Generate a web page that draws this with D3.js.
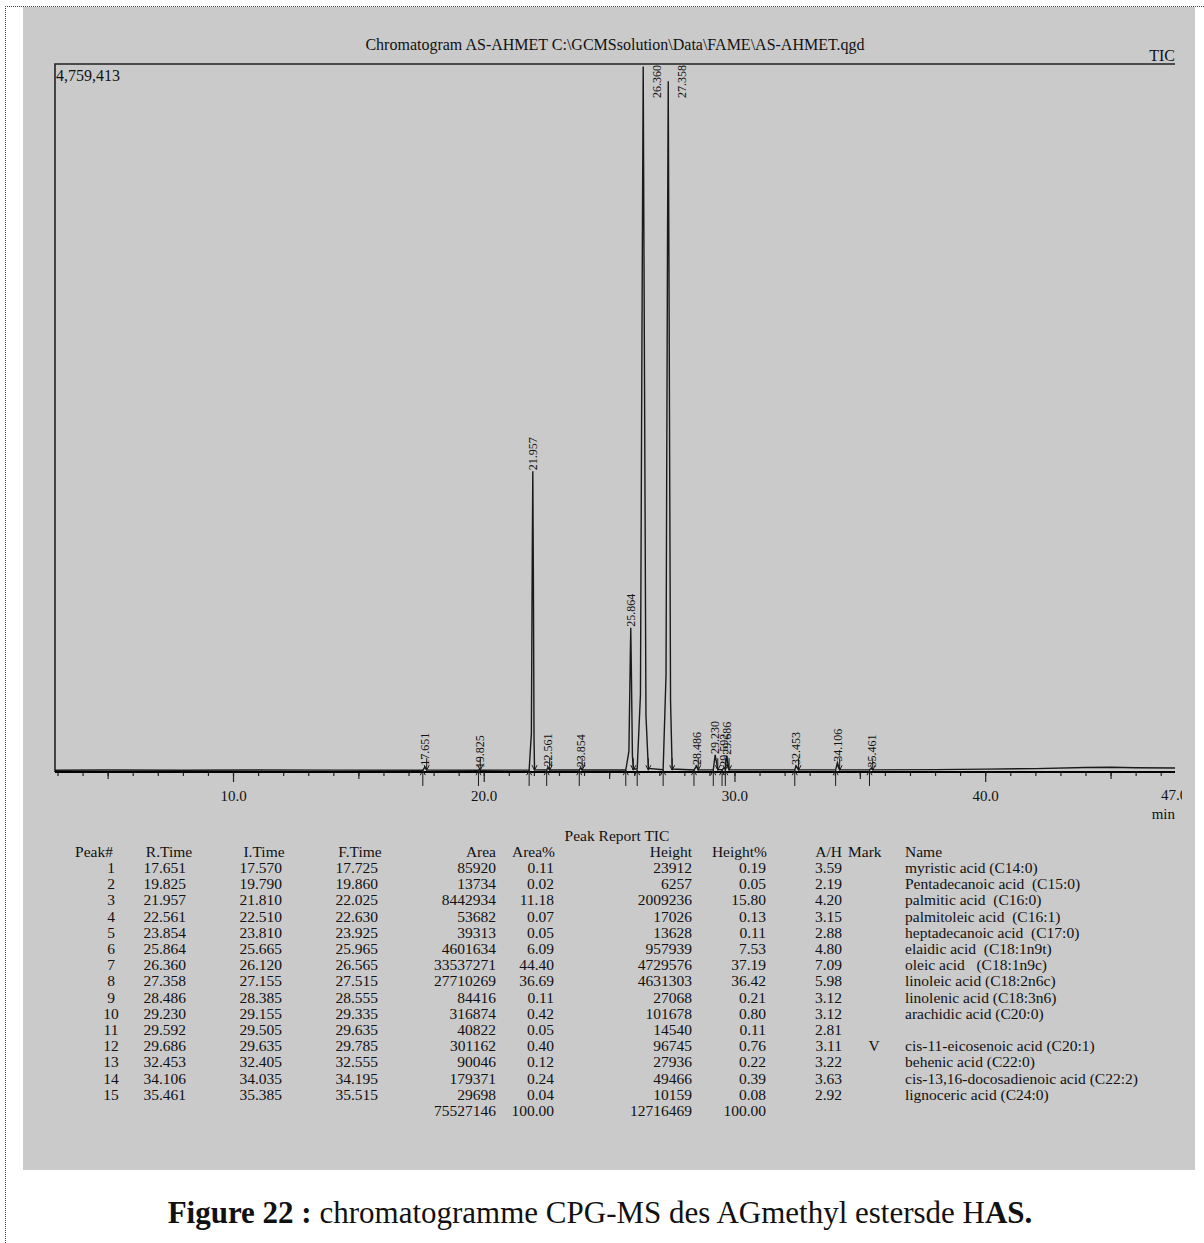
<!DOCTYPE html>
<html>
<head>
<meta charset="utf-8">
<script src="https://cdn.jsdelivr.net/npm/d3@7"></script>
<style>
  body { margin: 0; background: #fff; }
  svg { display: block; font-family: "Liberation Serif", "Times New Roman", serif; }
  text { white-space: pre; fill: #111; }
</style>
</head>
<body>
<div id="chart"></div>
<script>
// ---- peak report ----
const peakNo    = [1, 2, 3, 4, 5, 6, 7, 8, 9, 10, 11, 12, 13, 14, 15];
const rTime     = [17.651, 19.825, 21.957, 22.561, 23.854, 25.864, 26.360, 27.358, 28.486, 29.230, 29.592, 29.686, 32.453, 34.106, 35.461];
const iTime     = [17.570, 19.790, 21.810, 22.510, 23.810, 25.665, 26.120, 27.155, 28.385, 29.155, 29.505, 29.635, 32.405, 34.035, 35.385];
const fTime     = [17.725, 19.860, 22.025, 22.630, 23.925, 25.965, 26.565, 27.515, 28.555, 29.335, 29.635, 29.785, 32.555, 34.195, 35.515];
const area      = [85920, 13734, 8442934, 53682, 39313, 4601634, 33537271, 27710269, 84416, 316874, 40822, 301162, 90046, 179371, 29698];
const areaPct   = [0.11, 0.02, 11.18, 0.07, 0.05, 6.09, 44.40, 36.69, 0.11, 0.42, 0.05, 0.40, 0.12, 0.24, 0.04];
const height    = [23912, 6257, 2009236, 17026, 13628, 957939, 4729576, 4631303, 27068, 101678, 14540, 96745, 27936, 49466, 10159];
const heightPct = [0.19, 0.05, 15.80, 0.13, 0.11, 7.53, 37.19, 36.42, 0.21, 0.80, 0.11, 0.76, 0.22, 0.39, 0.08];
const aOverH    = [3.59, 2.19, 4.20, 3.15, 2.88, 4.80, 7.09, 5.98, 3.12, 3.12, 2.81, 3.11, 3.22, 3.63, 2.92];
const mark      = ["", "", "", "", "", "", "", "", "", "", "", "V", "", "", ""];
const names     = [
  "myristic acid (C14:0)",
  "Pentadecanoic acid  (C15:0)",
  "palmitic acid  (C16:0)",
  "palmitoleic acid  (C16:1)",
  "heptadecanoic acid  (C17:0)",
  "elaidic acid  (C18:1n9t)",
  "oleic acid   (C18:1n9c)",
  "linoleic acid (C18:2n6c)",
  "linolenic acid (C18:3n6)",
  "arachidic acid (C20:0)",
  "",
  "cis-11-eicosenoic acid (C20:1)",
  "behenic acid (C22:0)",
  "cis-13,16-docosadienoic acid (C22:2)",
  "lignoceric acid (C24:0)"
];
const totalArea = 75527146, totalAreaPct = 100, totalHeight = 12716469, totalHeightPct = 100;

// ---- TIC trace, [min, counts] ----
const trace = [
  [2.9, 12000], [5.0, 13000], [8.0, 12000], [11.0, 13000], [14.0, 12500], [17.57, 12000],
  [17.62, 24000], [17.651, 36000], [17.69, 22000], [17.725, 12500],
  [19.79, 12000], [19.825, 18000], [19.86, 12000],
  [21.81, 12500], [21.90, 260000], [21.935, 1450000], [21.957, 2021000], [21.98, 1300000], [22.005, 220000], [22.025, 15000],
  [22.51, 13000], [22.561, 30000], [22.63, 13000],
  [23.81, 13000], [23.854, 26000], [23.925, 13000],
  [25.665, 13000], [25.79, 140000], [25.845, 780000], [25.864, 970000], [25.885, 720000], [25.93, 110000], [25.965, 20000],
  [26.12, 20000], [26.25, 520000], [26.325, 3500000], [26.36, 4742000], [26.395, 3300000], [26.47, 380000], [26.565, 24000],
  [27.155, 16000], [27.27, 650000], [27.33, 3600000], [27.358, 4644000], [27.39, 3250000], [27.45, 480000], [27.515, 20000],
  [28.385, 14000], [28.486, 40000], [28.555, 14000],
  [29.155, 14000], [29.23, 115000], [29.335, 16000], [29.505, 15000], [29.592, 28000], [29.635, 22000], [29.686, 110000], [29.785, 15000],
  [32.405, 14000], [32.453, 41000], [32.555, 14000],
  [34.035, 14000], [34.106, 63000], [34.195, 14000],
  [35.385, 14000], [35.461, 24000], [35.515, 14000],
  [38.0, 16000], [40.0, 19000], [42.0, 23000], [44.0, 30000], [45.0, 32000], [46.0, 29000], [47.57, 27000]
];

const majorTicks = [10, 20, 30, 40];
const mediumTicks = [5, 15, 25, 35, 45];
const minorTicks = d3.range(3, 48);
const yMaxLabel = 4759413;

const CFG = {
  width: 1204,
  height: 1243,
  panel: { x: 23, y: 7, w: 1172, h: 1163, fill: "#cacaca" },
  frame: { left: 55, right: 1175, top: 64, bottom: 772 },
  xDomain: [2.9, 47.57],
  tableFont: 15.5,
  rowTop: 868,
  rowStep: 16.2
};

const svg = d3.select("#chart").append("svg")
  .attr("width", CFG.width)
  .attr("height", CFG.height);

// dotted page border
svg.append("line").attr("x1", 5).attr("x2", CFG.width).attr("y1", 6.5).attr("y2", 6.5)
  .attr("stroke", "#444").attr("stroke-dasharray", "1,1");
svg.append("line").attr("x1", 5.5).attr("x2", 5.5).attr("y1", 6).attr("y2", CFG.height)
  .attr("stroke", "#444").attr("stroke-dasharray", "1,1");

svg.append("rect")
  .attr("x", CFG.panel.x).attr("y", CFG.panel.y)
  .attr("width", CFG.panel.w).attr("height", CFG.panel.h)
  .attr("fill", CFG.panel.fill);

const F = CFG.frame;
const x = d3.scaleLinear().domain(CFG.xDomain).range([F.left, F.right]);
const y = d3.scaleLinear().domain([0, yMaxLabel]).range([F.bottom, F.top]);

// title
svg.append("text")
  .attr("x", 615).attr("y", 50)
  .attr("text-anchor", "middle")
  .attr("font-size", 16)
  .text("Chromatogram AS-AHMET C:\\GCMSsolution\\Data\\FAME\\AS-AHMET.qgd");
svg.append("text")
  .attr("x", F.right).attr("y", 61)
  .attr("text-anchor", "end")
  .attr("font-size", 16)
  .text("TIC");
svg.append("text")
  .attr("x", F.left + 1).attr("y", 81)
  .attr("font-size", 16)
  .text(d3.format(",")(yMaxLabel));

// frame
svg.append("path")
  .attr("d", `M${F.left},${F.bottom}V${F.top}H${F.right}`)
  .attr("fill", "none").attr("stroke", "#222").attr("stroke-width", 1.6);

// axes
const gx = svg.append("g").attr("transform", `translate(0,${F.bottom})`);
const minorAxis = gx.append("g")
  .call(d3.axisBottom(x).tickValues(minorTicks).tickSize(4).tickFormat(""));
const medAxis = gx.append("g")
  .call(d3.axisBottom(x).tickValues(mediumTicks).tickSize(7).tickFormat(""));
const majAxis = gx.append("g")
  .call(d3.axisBottom(x).tickValues(majorTicks).tickSize(10).tickPadding(8).tickFormat(d3.format(".1f")));
[minorAxis, medAxis].forEach(a => a.select(".domain").remove());
majAxis.select(".domain").attr("d", `M${F.left},0H${F.right}`).attr("stroke-width", 2);
gx.selectAll(".tick line").attr("stroke", "#222").attr("stroke-width", 1.2);
gx.selectAll("text")
  .attr("font-family", "Liberation Serif, serif")
  .attr("font-size", 15)
  .attr("fill", "#111");

// end label of the time range, clipped at the panel edge
svg.append("clipPath").attr("id", "endclip")
  .append("rect").attr("x", F.right - 40).attr("y", F.bottom).attr("width", 47).attr("height", 40);
svg.append("text")
  .attr("clip-path", "url(#endclip)")
  .attr("x", F.right - 1).attr("y", F.bottom + 28)
  .attr("text-anchor", "middle")
  .attr("font-size", 15)
  .text("47.0");
svg.append("text")
  .attr("x", F.right).attr("y", F.bottom + 47)
  .attr("text-anchor", "end")
  .attr("font-size", 15)
  .text("min");

// trace
svg.append("clipPath").attr("id", "plotclip")
  .append("rect").attr("x", F.left).attr("y", F.top).attr("width", F.right - F.left).attr("height", F.bottom - F.top);
svg.append("path")
  .datum(trace)
  .attr("clip-path", "url(#plotclip)")
  .attr("fill", "none")
  .attr("stroke", "#1a1a1a")
  .attr("stroke-width", 1.4)
  .attr("d", d3.line().x(d => x(d[0])).y(d => y(d[1])));

// integration marks: up arrow at start, down arrow at end
const baseY = y(12000);
const marks = svg.append("g").attr("stroke", "#1a1a1a").attr("stroke-width", 1).attr("fill", "none");
iTime.forEach(t => {
  const px = x(t);
  marks.append("path")
    .attr("d", `M${px},${F.bottom + 14}V${baseY}M${px - 2.5},${baseY + 5}L${px},${baseY}L${px + 2.5},${baseY + 5}`);
});
fTime.forEach(t => {
  const px = x(t);
  marks.append("path")
    .attr("d", `M${px},${baseY - 12}V${baseY}M${px - 2.5},${baseY - 5}L${px},${baseY}L${px + 2.5},${baseY - 5}`);
});

// peak labels (rotated, reading upwards from the apex)
const labelFont = 12;
const labelLen = 35;
rTime.forEach((t, i) => {
  const apex = d3.max(trace.filter(d => d[0] >= iTime[i] && d[0] <= fTime[i]), d => d[1]);
  let px = x(t);
  let py = y(apex) - 1;
  let anchor = "start";
  if (py - labelLen < F.top + 1) {
    px += 14;
    py = F.top + 1;
    anchor = "end";
  }
  svg.append("text")
    .attr("transform", `translate(${px},${py}) rotate(-90)`)
    .attr("dy", "0.35em")
    .attr("text-anchor", anchor)
    .attr("font-size", labelFont)
    .text(d3.format(".3f")(t));
});

// peak report table
const fmt3 = d3.format(".3f"), fmt2 = d3.format(".2f"), fmtI = d3.format("d");
const columns = [
  { head: "Peak#",   hx: 113, x: 111, anchor: "middle", get: i => peakNo[i] },
  { head: "R.Time",  hx: 169, hAnchor: "middle", x: 186, anchor: "end", get: i => fmt3(rTime[i]) },
  { head: "I.Time",  hx: 264, hAnchor: "middle", x: 282, anchor: "end", get: i => fmt3(iTime[i]) },
  { head: "F.Time",  hx: 360, hAnchor: "middle", x: 378, anchor: "end", get: i => fmt3(fTime[i]) },
  { head: "Area",    hx: 496, x: 496, anchor: "end", get: i => fmtI(area[i]) },
  { head: "Area%",   hx: 555, x: 554, anchor: "end", get: i => fmt2(areaPct[i]) },
  { head: "Height",  hx: 692, x: 692, anchor: "end", get: i => fmtI(height[i]) },
  { head: "Height%", hx: 767, x: 766, anchor: "end", get: i => fmt2(heightPct[i]) },
  { head: "A/H",     hx: 842, x: 842, anchor: "end", get: i => fmt2(aOverH[i]) },
  { head: "Mark",    hx: 848, hAnchorStart: true, x: 874, anchor: "middle", get: i => mark[i] },
  { head: "Name",    hx: 905, hAnchorStart: true, x: 905, anchor: "start", get: i => names[i] }
];

const table = svg.append("g").attr("font-size", CFG.tableFont);
table.append("text")
  .attr("x", 617).attr("y", CFG.rowTop - 2 * CFG.rowStep + 5)
  .attr("text-anchor", "middle")
  .text("Peak Report TIC");
const headY = CFG.rowTop - CFG.rowStep + 5;
columns.forEach(c => {
  table.append("text")
    .attr("x", c.hx).attr("y", headY)
    .attr("text-anchor", c.hAnchorStart ? "start" : (c.hAnchor || "end"))
    .text(c.head);
  peakNo.forEach((_, i) => {
    table.append("text")
      .attr("x", c.x).attr("y", CFG.rowTop + i * CFG.rowStep + 5)
      .attr("text-anchor", c.anchor)
      .text(c.get(i));
  });
});
const totY = CFG.rowTop + peakNo.length * CFG.rowStep + 5;
[[496, fmtI(totalArea)], [554, fmt2(totalAreaPct)], [692, fmtI(totalHeight)], [766, fmt2(totalHeightPct)]]
  .forEach(([tx, tv]) => {
    table.append("text").attr("x", tx).attr("y", totY).attr("text-anchor", "end").text(tv);
  });

// caption
const cap = svg.append("text")
  .attr("x", 600).attr("y", 1223)
  .attr("text-anchor", "middle")
  .attr("font-size", 31)
  .attr("fill", "#000");
cap.append("tspan").attr("font-weight", "bold").text("Figure 22 :");
cap.append("tspan").text(" chromatogramme CPG-MS des AGmethyl estersde H");
cap.append("tspan").attr("font-weight", "bold").text("AS.");
</script>
</body>
</html>
